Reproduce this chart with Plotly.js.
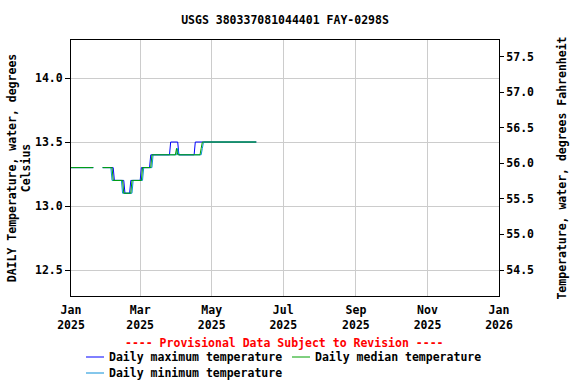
<!DOCTYPE html>
<html>
<head>
<meta charset="utf-8">
<script src="https://cdn.plot.ly/plotly-3.0.1.min.js"></script>
<style>html,body{margin:0;padding:0;background:#fff;}#chart{width:576px;height:384px;}</style>
</head>
<body>
<div id="chart"></div>
<script>
// Daily values starting 2025-01-01 (one value per day, null = no data)
var startDate = '2025-01-01';
var dailyMax = [
 13.3,13.3,13.3,13.3,13.3,13.3,13.3,13.3,13.3,13.3,13.3,13.3,13.3,13.3,13.3,13.3,13.3,13.3,13.3,13.3,
 null,null,null,null,null,null,null,
 13.3,13.3,13.3,13.3,13.3,13.3,13.3,13.3,13.3,13.3,
 13.2,13.2,13.2,13.2,13.2,13.2,13.2,13.2,13.2,
 13.1,13.1,13.1,13.1,13.1,
 13.2,13.2,13.2,13.2,13.2,13.2,13.2,13.2,13.2,
 13.3,13.3,13.3,13.3,13.3,13.3,13.3,13.3,
 13.4,13.4,13.4,13.4,13.4,13.4,13.4,13.4,13.4,13.4,13.4,13.4,13.4,13.4,13.4,13.4,13.4,
 13.5,13.5,13.5,13.5,13.5,13.5,13.5,
 13.4,13.4,13.4,13.4,13.4,13.4,13.4,13.4,13.4,13.4,13.4,13.4,13.4,13.4,
 13.5,13.5,13.5,13.5,13.5,13.5,13.5,13.5,13.5,13.5,13.5,13.5,13.5,13.5,13.5,13.5,13.5,13.5,13.5,13.5,
 13.5,13.5,13.5,13.5,13.5,13.5,13.5,13.5,13.5,13.5,13.5,13.5,13.5,13.5,13.5,13.5,13.5,13.5,13.5,13.5,
 13.5,13.5,13.5,13.5,13.5,13.5,13.5,13.5,13.5,13.5,13.5,13.5,13.5
];
var dailyMedian = [
 13.3,13.3,13.3,13.3,13.3,13.3,13.3,13.3,13.3,13.3,13.3,13.3,13.3,13.3,13.3,13.3,13.3,13.3,13.3,13.3,
 null,null,null,null,null,null,null,
 13.3,13.3,13.3,13.3,13.3,13.3,13.3,13.3,13.3,
 13.2,13.2,13.2,13.2,13.2,13.2,13.2,13.2,13.2,
 13.1,13.1,13.1,13.1,13.1,13.1,13.1,
 13.2,13.2,13.2,13.2,13.2,13.2,13.2,13.2,13.2,
 13.3,13.3,13.3,13.3,13.3,13.3,13.3,13.3,
 13.4,13.4,13.4,13.4,13.4,13.4,13.4,13.4,13.4,13.4,13.4,13.4,13.4,13.4,13.4,13.4,13.4,13.4,13.4,13.4,13.4,
 13.45,
 13.4,13.4,13.4,13.4,13.4,13.4,13.4,13.4,13.4,13.4,13.4,13.4,13.4,13.4,13.4,13.4,13.4,13.4,13.4,13.4,
 13.45,
 13.5,13.5,13.5,13.5,13.5,13.5,13.5,13.5,13.5,13.5,13.5,13.5,13.5,13.5,13.5,13.5,13.5,13.5,13.5,13.5,
 13.5,13.5,13.5,13.5,13.5,13.5,13.5,13.5,13.5,13.5,13.5,13.5,13.5,13.5,13.5,13.5,13.5,13.5,13.5,13.5,
 13.5,13.5,13.5,13.5,13.5,13.5,13.5
];
var dailyMin = [
 13.3,13.3,13.3,13.3,13.3,13.3,13.3,13.3,13.3,13.3,13.3,13.3,13.3,13.3,13.3,13.3,13.3,13.3,13.3,13.3,
 null,null,null,null,null,null,null,
 13.3,13.3,13.3,13.3,13.3,13.3,13.3,13.3,
 13.2,13.2,13.2,13.2,13.2,13.2,13.2,13.2,13.2,
 13.1,13.1,13.1,13.1,13.1,13.1,13.1,13.1,13.1,
 13.2,13.2,13.2,13.2,13.2,13.2,13.2,13.2,13.2,
 13.3,13.3,13.3,13.3,13.3,13.3,13.3,13.3,
 13.4,13.4,13.4,13.4,13.4,13.4,13.4,13.4,13.4,13.4,13.4,13.4,13.4,13.4,13.4,13.4,13.4,13.4,13.4,13.4,13.4,
 13.45,
 13.4,13.4,13.4,13.4,13.4,13.4,13.4,13.4,13.4,13.4,13.4,13.4,13.4,13.4,13.4,13.4,13.4,13.4,13.4,13.4,
 13.45,
 13.5,13.5,13.5,13.5,13.5,13.5,13.5,13.5,13.5,13.5,13.5,13.5,13.5,13.5,13.5,13.5,13.5,13.5,13.5,13.5,
 13.5,13.5,13.5,13.5,13.5,13.5,13.5,13.5,13.5,13.5,13.5,13.5,13.5,13.5,13.5,13.5,13.5,13.5,13.5,13.5,
 13.5,13.5,13.5,13.5,13.5,13.5
];
var seriesNames = ['Daily maximum temperature', 'Daily median temperature', 'Daily minimum temperature'];
var seriesColors = ['#0000ff', '#00a000', '#0a8fd8'];
var xTickVals = ['2025-01-01','2025-03-01','2025-05-01','2025-07-01','2025-09-01','2025-11-01','2026-01-01'];
var xTickText = ['Jan<br>2025','Mar<br>2025','May<br>2025','Jul<br>2025','Sep<br>2025','Nov<br>2025','Jan<br>2026'];
var cTickVals = [12.5, 13.0, 13.5, 14.0];
var cTickText = ['12.5','13.0','13.5','14.0'];
var fTickVals = [54.5, 55.0, 55.5, 56.0, 56.5, 57.0, 57.5];
var fTickText = ['54.5','55.0','55.5','56.0','56.5','57.0','57.5'];
var cRange = [12.297, 14.297];

function dayDates(n) {
  var out = [];
  var t0 = Date.parse(startDate + 'T00:00:00Z');
  for (var i = 0; i < n; i++) {
    out.push(new Date(t0 + i * 86400000).toISOString().slice(0, 10));
  }
  return out;
}
function toF(arr) { return arr.map(function (v) { return v === null ? null : v * 1.8 + 32; }); }
var dates = dayDates(dailyMedian.length);

var FONT = 'DejaVu Sans Mono, Liberation Mono, monospace';
function f(color) { return {family: FONT, size: 11.5, color: color || '#000000', weight: 'bold'}; }

var traces = [
  {x: dates, y: dailyMax, name: seriesNames[0], type: 'scatter', mode: 'lines',
   line: {color: seriesColors[0], width: 1}, connectgaps: false},
  {x: dates, y: dailyMin, name: seriesNames[2], type: 'scatter', mode: 'lines',
   line: {color: seriesColors[2], width: 1}, connectgaps: false},
  {x: dates, y: dailyMedian, name: seriesNames[1], type: 'scatter', mode: 'lines',
   line: {color: seriesColors[1], width: 1}, connectgaps: false},
  // Same median series in Fahrenheit, invisible, so the right-hand axis is drawn
  {x: dates, y: toF(dailyMedian), yaxis: 'y2', type: 'scatter', mode: 'lines', name: 'F',
   line: {color: 'rgba(0,0,0,0)', width: 0}, hoverinfo: 'skip'}
];

// Legend drawn as keys below the plot (pixel positions converted to paper units)
var PL = 71, PW = 428, PB = 296, PH = 256;
function px(x) { return (x - PL) / PW; }
function py(y) { return (PB - y) / PH; }
var legendSpots = [[86, 357], [292, 357], [86, 373]];
var shapes = [], annotations = [];
for (var i = 0; i < seriesNames.length; i++) {
  var s = legendSpots[i];
  shapes.push({type: 'line', xref: 'paper', yref: 'paper', x0: px(s[0]), x1: px(s[0] + 18),
               y0: py(s[1]), y1: py(s[1]), line: {color: seriesColors[i], width: 1}});
  annotations.push({text: seriesNames[i], xref: 'paper', yref: 'paper', x: px(s[0] + 21), y: py(s[1]),
                    xanchor: 'left', yanchor: 'middle', showarrow: false, font: f()});
}
annotations.push({text: '---- Provisional Data Subject to Revision ----', xref: 'paper', yref: 'paper',
  x: px(284), y: py(343), xanchor: 'center', yanchor: 'middle', showarrow: false, font: f('#ff0000')});

var layout = {
  width: 576, height: 384,
  margin: {l: 71, r: 77, t: 40, b: 88, autoexpand: false},
  paper_bgcolor: '#ffffff', plot_bgcolor: '#ffffff',
  font: f(),
  title: {text: 'USGS 380337081044401 FAY-0298S', x: 0.5, xref: 'paper', y: 1 - 20 / 384, yref: 'container',
          yanchor: 'middle', font: f()},
  showlegend: false,
  xaxis: {type: 'date', range: ['2025-01-01', '2026-01-01'], tickvals: xTickVals, ticktext: xTickText,
          showgrid: true, gridcolor: '#cccccc', gridwidth: 1, showline: true, linecolor: '#000000',
          linewidth: 1, mirror: true, ticks: '', zeroline: false, tickangle: 0, automargin: false,
          ticklabelstandoff: 3, tickfont: f()},
  yaxis: {range: cRange, tickvals: cTickVals, ticktext: cTickText, showgrid: true, gridcolor: '#cccccc',
          showline: true, linecolor: '#000000', linewidth: 1, ticks: 'outside', ticklen: 5, tickcolor: '#000000',
          zeroline: false, mirror: false, automargin: false, tickfont: f(),
          title: {text: 'DAILY Temperature, water, degrees<br>Celsius', standoff: 1, font: f()}},
  yaxis2: {overlaying: 'y', side: 'right', anchor: 'x', automargin: false,
           range: [cRange[0] * 1.8 + 32, cRange[1] * 1.8 + 32],
           tickvals: fTickVals, ticktext: fTickText, showgrid: false, zeroline: false,
           showline: true, linecolor: '#000000', linewidth: 1, ticks: 'outside', ticklen: 4, tickcolor: '#000000',
           tickfont: f(),
           title: {text: 'Temperature, water, degrees Fahrenheit', standoff: 24, font: f()}},
  shapes: shapes,
  annotations: annotations
};

Plotly.newPlot('chart', traces, layout, {displayModeBar: false, staticPlot: true});
</script>
</body>
</html>
